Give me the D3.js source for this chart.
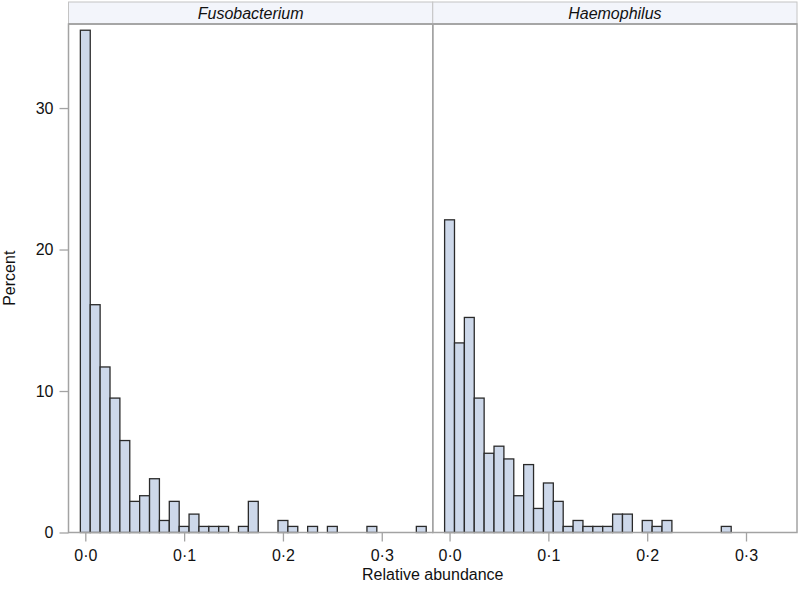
<!DOCTYPE html>
<html>
<head>
<meta charset="utf-8">
<script src="https://cdn.jsdelivr.net/npm/d3@7"></script>
<style>
  html, body { margin: 0; padding: 0; background: #fff; }
  svg { display: block; font-family: Arial, "Liberation Sans", Helvetica, sans-serif; }
</style>
</head>
<body>
<svg id="chart" width="799" height="593"></svg>
<script>
// ---- data ----
const panels = ["Fusobacterium", "Haemophilus"];
const binWidth = 0.01; // histogram bins centred on 0.00, 0.01, 0.02, ...
const fusobacteriumPct = [35.5, 16.1, 11.7, 9.5, 6.5, 2.2, 2.6, 3.8, 0.85, 2.2,
  0.43, 1.3, 0.43, 0.43, 0.43, 0, 0.43, 2.2, 0, 0,
  0.85, 0.43, 0, 0.43, 0, 0.43, 0, 0, 0, 0.43,
  0, 0, 0, 0, 0.43];
const haemophilusPct = [22.1, 13.4, 15.2, 9.5, 5.6, 6.1, 5.2, 2.6, 4.8, 1.7,
  3.5, 2.2, 0.43, 0.85, 0.43, 0.43, 0.43, 1.3, 1.3, 0,
  0.85, 0.43, 0.85, 0, 0, 0, 0, 0, 0.43];
const seriesValues = [fusobacteriumPct, haemophilusPct];
const xTicks = [0, 0.1, 0.2, 0.3];
const yTicks = [0, 10, 20, 30];
const xDomain = [-0.017, 0.3516];
const yDomain = [0, 35.94];
const xTitle = "Relative abundance";
const yTitle = "Percent";

// ---- layout ----
const svg = d3.select("#chart");
const left = 68.5, right = 797, headTop = 2, headBottom = 24, bottom = 532.5;
const pw = (right - left) / panels.length;
const ph = bottom - headBottom;
const gray = "#a3a3a3";

const x = d3.scaleLinear().domain(xDomain).range([0, pw]);
const y = d3.scaleLinear().domain(yDomain).range([ph, 0]);
const fmt = d => d.toFixed(1).replace(".", "\u00B7");

panels.forEach((name, p) => {
  const ox = left + p * pw;
  // header strip
  svg.append("rect").attr("x", ox).attr("y", headTop).attr("width", pw).attr("height", headBottom - headTop)
    .attr("fill", "#f3f5fb").attr("stroke", "#c4c4c4").attr("stroke-width", 1);
  svg.append("line").attr("x1", ox).attr("x2", ox + pw).attr("y1", headBottom).attr("y2", headBottom)
    .attr("stroke", gray).attr("stroke-width", 1.5);
  svg.append("text").attr("x", ox + pw / 2).attr("y", 19).attr("text-anchor", "middle")
    .attr("font-size", 16).attr("font-style", "italic").attr("fill", "#111").text(name);

  const g = svg.append("g").attr("transform", `translate(${ox},${headBottom})`);
  const vals = seriesValues[p];
  g.selectAll("rect.bar").data(vals.map((v, i) => ({ i, v })).filter(d => d.v > 0))
    .enter().append("rect").attr("class", "bar")
    .attr("x", d => x((d.i - 0.5) * binWidth))
    .attr("width", d => x((d.i + 0.5) * binWidth) - x((d.i - 0.5) * binWidth))
    .attr("y", d => y(d.v))
    .attr("height", d => y(0) - y(d.v))
    .attr("fill", "#cdd8ea").attr("stroke", "#2a2a2a").attr("stroke-width", 1.3);

  // panel frame
  g.append("rect").attr("x", 0).attr("y", 0).attr("width", pw).attr("height", ph)
    .attr("fill", "none").attr("stroke", gray).attr("stroke-width", 1.5);

  // x axis
  const xa = g.append("g").attr("transform", `translate(0,${ph})`)
    .call(d3.axisBottom(x).tickValues(xTicks).tickFormat(fmt).tickSize(9).tickPadding(8));
  xa.select(".domain").remove();
  xa.selectAll("line").attr("stroke", gray).attr("stroke-width", 1.3);
  xa.selectAll("text").attr("font-size", 16).attr("fill", "#111")
    .attr("font-family", "Arial, 'Liberation Sans', sans-serif");

  if (p === 0) {
    const ya = g.append("g")
      .call(d3.axisLeft(y).tickValues(yTicks).tickSize(9).tickPadding(6));
    ya.select(".domain").remove();
    ya.selectAll("line").attr("stroke", gray).attr("stroke-width", 1.3);
    ya.selectAll("text").attr("font-size", 16).attr("fill", "#111")
      .attr("font-family", "Arial, 'Liberation Sans', sans-serif");
  }
});

// axis titles
svg.append("text").attr("x", left + pw).attr("y", 580).attr("text-anchor", "middle")
  .attr("font-size", 16).attr("fill", "#111").text(xTitle);
svg.append("text").attr("transform", `translate(15,${(headBottom + bottom) / 2}) rotate(-90)`)
  .attr("text-anchor", "middle").attr("font-size", 16).attr("fill", "#111").text(yTitle);
</script>
</body>
</html>
